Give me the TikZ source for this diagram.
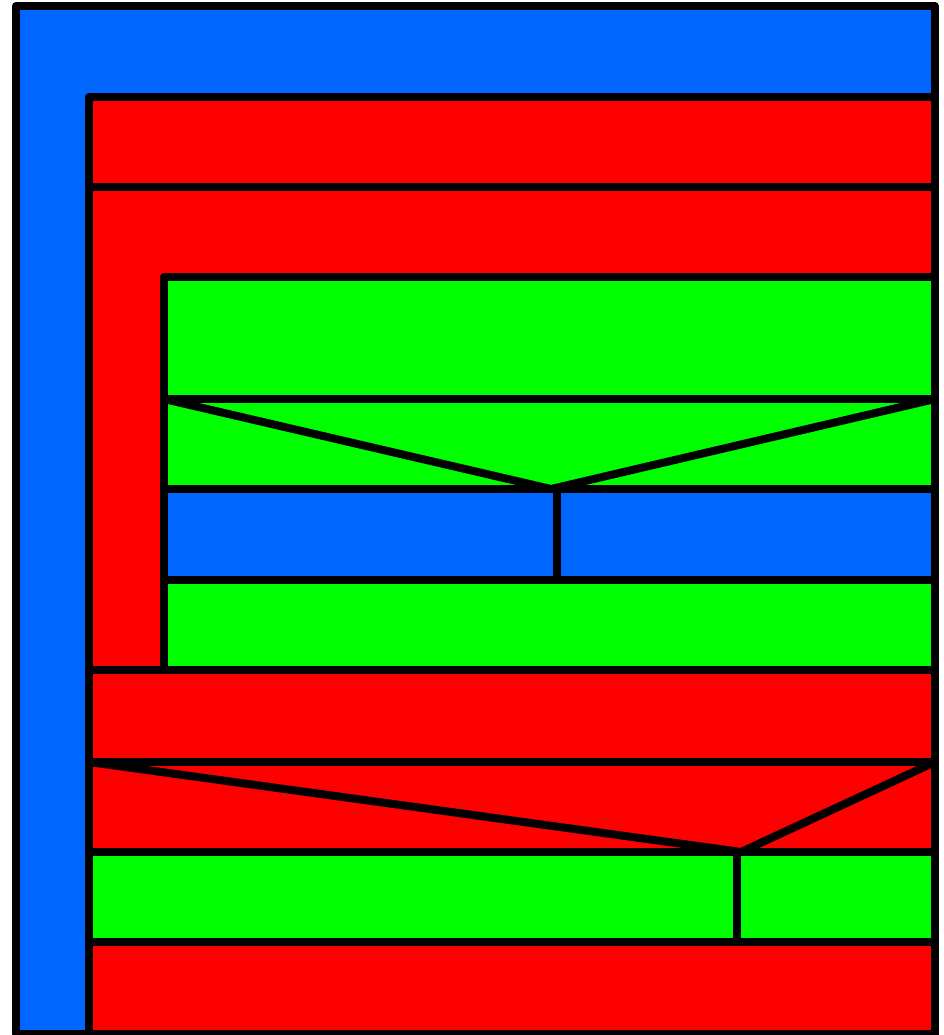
\documentclass[tikz,border=0pt]{standalone}
\usepackage{xcolor}
\usepackage{tikz}
\usetikzlibrary{calc}
\definecolor{tBlue}{RGB}{0,102,255}
\definecolor{tRed}{RGB}{255,0,0}
\definecolor{tGreen}{RGB}{0,255,0}
\tikzset{
cell/.style={draw=black,line width=8pt,line join=round},
bluecell/.style={cell,fill=tBlue},
redcell/.style={cell,fill=tRed},
greencell/.style={cell,fill=tGreen},
edge/.style={draw=black,line width=8pt,line join=round,line cap=round}
}
\begin{document}
\begin{tikzpicture}[x=1pt,y=-1pt]
\useasboundingbox (0,0) rectangle (943,1035);
% outer frame
\filldraw[bluecell] (16,6) rectangle (935,1034);
% red block
\filldraw[redcell] (89,97) rectangle (935,187);
\filldraw[redcell] (89,187) rectangle (935,670);
% green block inside
\filldraw[greencell] (164,277) rectangle (935,399);
\filldraw[greencell] (164,399) rectangle (935,489);
\filldraw[bluecell] (164,489) rectangle (557,580);
\filldraw[bluecell] (557,489) rectangle (935,580);
\filldraw[greencell] (164,580) rectangle (935,670);
% lower rows
\filldraw[redcell] (89,670) rectangle (935,762);
\filldraw[redcell] (89,762) rectangle (935,852);
\filldraw[greencell] (89,852) rectangle (737,942);
\filldraw[greencell] (737,852) rectangle (935,942);
\filldraw[redcell] (89,942) rectangle (935,1034);
% wedges
\coordinate (gTip) at (551,489);
\coordinate (rTip) at (741,852);
\draw[edge] (164,399) -- (gTip) -- (935,399);
\draw[edge] (89,762) -- (rTip) -- (935,762);
\end{tikzpicture}
\end{document}
